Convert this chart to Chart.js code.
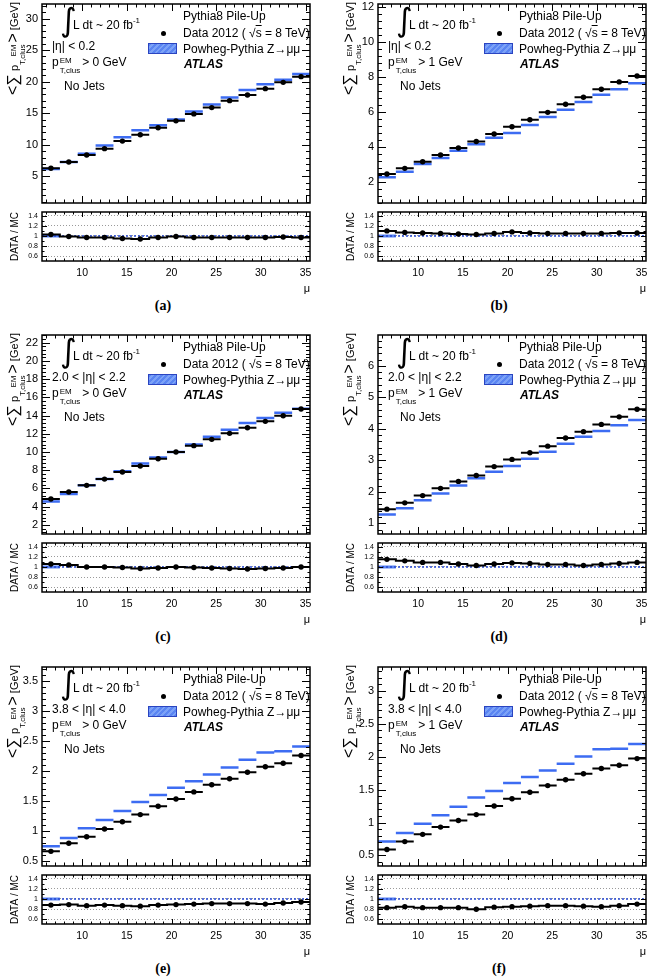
<!DOCTYPE html>
<html>
<head>
<meta charset="utf-8">
<script src="https://cdn.jsdelivr.net/npm/chart.js@4.4.1/dist/chart.umd.min.js"></script>
<style>
body { margin: 0; background: #fff; }
#fig { position: relative; width: 650px; height: 979px; overflow: hidden; font-family: 'Liberation Sans', Arial, sans-serif; color: #000; }
#fig canvas { position: absolute; }
.t { position: absolute; white-space: nowrap; font-size: 12px; line-height: 14px; transform: translateY(-50%); }
.ss { display: inline-flex; flex-direction: column; font-size: 8px; line-height: 10px; vertical-align: 3px; margin-left: 1px; margin-right: 2px; }
.int { font-family: 'DejaVu Sans', sans-serif; font-size: 32px; line-height: 32px; }
.sup { font-size: 8px; vertical-align: 6px; }
.atlas { font-weight: bold; font-style: italic; }
.dot { position: absolute; width: 5px; height: 5px; border-radius: 50%; background: #000; }
.mcbox { position: absolute; box-sizing: border-box; border: 1px solid #2a44c0;
  background: repeating-linear-gradient(135deg, #5a85f2 0 2px, #7ca2f7 2px 4px); }
.ytitle { position: absolute; width: 130px; height: 20px; line-height: 20px; text-align: right; white-space: nowrap;
  font-size: 11px; transform: rotate(-90deg); }
.ytitle .big { font-size: 16px; }
.ytitle .ss { line-height: 9px; vertical-align: 2px; margin-left: 0; }
.letter { position: absolute; width: 60px; text-align: center; font-family: 'Liberation Serif', serif; font-weight: bold; font-size: 14px; transform: translate(-50%, -50%); }
</style>
</head>
<body>
<div id="fig"></div>
<script>
// mu bins
const muEdges = [5.5, 7.5, 9.5, 11.5, 13.5, 15.5, 17.5, 19.5, 21.5, 23.5, 25.5, 27.5, 29.5, 31.5, 33.5, 35.5];
const muCenters = [6.5, 8.5, 10.5, 12.5, 14.5, 16.5, 18.5, 20.5, 22.5, 24.5, 26.5, 28.5, 30.5, 32.5, 34.5];
const muTicks = [10, 15, 20, 25, 30, 35];

// (a) |eta| < 0.2, pT > 0
const dataA = [6.3, 7.3, 8.4, 9.4, 10.6, 11.6, 12.7, 13.8, 14.9, 15.9, 17.0, 17.9, 18.9, 19.9, 20.8];
const mcA = [6.2, 7.3, 8.6, 9.9, 11.2, 12.3, 13.1, 14.0, 15.3, 16.4, 17.5, 18.7, 19.6, 20.3, 21.2];
const ratioA = [1.03, 0.99, 0.97, 0.97, 0.95, 0.94, 0.97, 0.99, 0.97, 0.97, 0.97, 0.97, 0.97, 0.98, 0.97];
// (b) |eta| < 0.2, pT > 1
const dataB = [2.44, 2.76, 3.14, 3.52, 3.92, 4.29, 4.72, 5.14, 5.54, 5.96, 6.42, 6.82, 7.28, 7.70, 8.04];
const mcB = [2.25, 2.57, 3.01, 3.35, 3.77, 4.13, 4.51, 4.78, 5.24, 5.70, 6.11, 6.55, 6.97, 7.28, 7.62];
const ratioB = [1.10, 1.07, 1.06, 1.05, 1.04, 1.03, 1.05, 1.08, 1.06, 1.05, 1.05, 1.05, 1.05, 1.06, 1.06];
// (c) 2.0 < |eta| < 2.2, pT > 0
const dataC = [4.84, 5.61, 6.34, 7.03, 7.80, 8.46, 9.27, 10.0, 10.7, 11.39, 12.05, 12.67, 13.37, 13.99, 14.72];
const mcC = [4.58, 5.39, 6.34, 7.03, 7.88, 8.75, 9.41, 10.0, 10.84, 11.68, 12.45, 13.18, 13.73, 14.32, 14.76];
const ratioC = [1.06, 1.04, 1.00, 1.00, 0.99, 0.97, 0.98, 1.00, 0.99, 0.98, 0.97, 0.96, 0.97, 0.98, 1.00];
// (d) 2.0 < |eta| < 2.2, pT > 1
const dataD = [1.45, 1.65, 1.88, 2.11, 2.33, 2.52, 2.80, 3.03, 3.24, 3.45, 3.71, 3.91, 4.14, 4.38, 4.62];
const mcD = [1.28, 1.48, 1.73, 1.95, 2.20, 2.43, 2.64, 2.82, 3.05, 3.27, 3.53, 3.75, 3.93, 4.11, 4.28];
const ratioD = [1.15, 1.12, 1.09, 1.09, 1.06, 1.03, 1.06, 1.08, 1.07, 1.05, 1.05, 1.03, 1.05, 1.07, 1.09];
// (e) 3.8 < |eta| < 4.0, pT > 0
const dataE = [0.655, 0.79, 0.90, 1.03, 1.15, 1.27, 1.41, 1.53, 1.65, 1.77, 1.87, 1.98, 2.07, 2.13, 2.26];
const mcE = [0.74, 0.88, 1.04, 1.18, 1.33, 1.48, 1.60, 1.72, 1.83, 1.94, 2.06, 2.19, 2.31, 2.33, 2.41];
const ratioE = [0.88, 0.89, 0.87, 0.88, 0.87, 0.86, 0.88, 0.89, 0.90, 0.91, 0.91, 0.91, 0.90, 0.92, 0.94];
// (f) 3.8 < |eta| < 4.0, pT > 1
const dataF = [0.59, 0.71, 0.82, 0.93, 1.03, 1.12, 1.25, 1.36, 1.46, 1.56, 1.65, 1.74, 1.82, 1.87, 1.97];
const mcF = [0.71, 0.84, 0.98, 1.11, 1.24, 1.38, 1.48, 1.60, 1.69, 1.79, 1.89, 2.00, 2.11, 2.12, 2.19];
const ratioF = [0.83, 0.85, 0.83, 0.83, 0.83, 0.80, 0.84, 0.85, 0.86, 0.87, 0.87, 0.86, 0.85, 0.87, 0.90];

const mcRatio = 1;
const panelLetters = ['(a)', '(b)', '(c)', '(d)', '(e)', '(f)'];
const etaLabels = ['|η| < 0.2', '|η| < 0.2', '2.0 < |η| < 2.2', '2.0 < |η| < 2.2', '3.8 < |η| < 4.0', '3.8 < |η| < 4.0'];
const ptCuts = ['0', '1', '0', '1', '0', '1'];

const yMin = [0.8, 0.78, 1.0, 0.66, 0.41, 0.34];
const yMax = [32.3, 12.15, 22.85, 6.98, 3.74, 3.36];
const yTicks = [
  [5, 10, 15, 20, 25, 30],
  [2, 4, 6, 8, 10, 12],
  [2, 4, 6, 8, 10, 12, 14, 16, 18, 20, 22],
  [1, 2, 3, 4, 5, 6],
  [0.5, 1, 1.5, 2, 2.5, 3, 3.5],
  [0.5, 1, 1.5, 2, 2.5, 3]
];
const yMinorStep = [1, 0.4, 0.4, 0.2, 0.1, 0.1];
const ratioTicks = [0.6, 0.8, 1, 1.2, 1.4];
const ratioMin = 0.51, ratioMax = 1.47;

const dataSeries = [dataA, dataB, dataC, dataD, dataE, dataF];
const mcSeries = [mcA, mcB, mcC, mcD, mcE, mcF];
const ratioSeries = [ratioA, ratioB, ratioC, ratioD, ratioE, ratioF];

Chart.defaults.font.family = "'Liberation Sans', Arial, sans-serif";
Chart.defaults.color = '#000';

const fig = document.getElementById('fig');
const colLeft = [0, 336];
const rowTop = [0, 331, 663];

// ROOT-like frame with ticks pointing inwards
const inwardTicks = {
  id: 'inwardTicks',
  afterDraw(chart, args, o) {
    const { ctx, chartArea: a } = chart;
    const x = chart.scales.x, y = chart.scales.y;
    const isMajor = (s, v) => s.ticks.some(t => Math.abs(t.value - v) < 1e-6);
    ctx.save();
    ctx.strokeStyle = '#000';
    ctx.lineWidth = 1;
    ctx.beginPath();
    for (let i = Math.ceil(x.min / o.xStep - 1e-6); i * o.xStep <= x.max + 1e-9; i++) {
      const v = +(i * o.xStep).toFixed(6);
      const p = Math.round(x.getPixelForValue(v)) + 0.5;
      const len = isMajor(x, v) ? o.xLen : o.xLen / 2;
      ctx.moveTo(p, a.bottom); ctx.lineTo(p, a.bottom - len);
      ctx.moveTo(p, a.top); ctx.lineTo(p, a.top + len);
    }
    for (let i = Math.ceil(y.min / o.yStep - 1e-6); i * o.yStep <= y.max + 1e-9; i++) {
      const v = +(i * o.yStep).toFixed(6);
      const p = Math.round(y.getPixelForValue(v)) + 0.5;
      const len = isMajor(y, v) ? o.yLen : o.yLen / 2;
      ctx.moveTo(a.left, p); ctx.lineTo(a.left + len, p);
      ctx.moveTo(a.right, p); ctx.lineTo(a.right - len, p);
    }
    ctx.stroke();
    ctx.lineWidth = 1.5;
    ctx.strokeRect(a.left, a.top, a.right - a.left, a.bottom - a.top);
    ctx.restore();
  }
};

function segments(vals) {
  const pts = [];
  vals.forEach((v, i) => {
    pts.push({ x: muEdges[i], y: v }, { x: muEdges[i + 1], y: v }, { x: muEdges[i + 1], y: null });
  });
  return pts;
}

function steps(vals) {
  const pts = [];
  vals.forEach((v, i) => {
    pts.push({ x: muEdges[i], y: v }, { x: muEdges[i + 1], y: v });
  });
  return pts;
}

function points(vals) {
  return vals.map((v, i) => ({ x: muCenters[i], y: v }));
}

function makeCanvas(left, top, w, h) {
  const c = document.createElement('canvas');
  c.width = w; c.height = h;
  c.style.left = left + 'px'; c.style.top = top + 'px';
  c.style.width = w + 'px'; c.style.height = h + 'px';
  fig.appendChild(c);
  return c;
}

function addText(html, left, top, cls) {
  const d = document.createElement('div');
  d.className = 't' + (cls ? ' ' + cls : '');
  d.innerHTML = html;
  d.style.left = left + 'px';
  d.style.top = top + 'px';
  fig.appendChild(d);
  return d;
}

const pTclus = 'p<span class="ss"><span>EM</span><span>T,clus</span></span>';

function drawPanel(i) {
  const c = i % 2, r = Math.floor(i / 2);
  const L = colLeft[c], T = rowTop[r];

  // main plot
  new Chart(makeCanvas(L, T, 314, 207), {
    type: 'line',
    data: {
      datasets: [
        { data: points(dataSeries[i]), showLine: false, pointRadius: 2.7, pointBorderWidth: 0,
          pointBackgroundColor: '#000', order: 0 },
        { data: segments(dataSeries[i]), borderColor: '#000', borderWidth: 2, pointRadius: 0, order: 1 },
        { data: segments(mcSeries[i]), borderColor: '#3d6cf2', borderWidth: 2.5, pointRadius: 0, order: 2 }
      ]
    },
    options: {
      responsive: false, animation: false, events: [],
      layout: { padding: { top: 4, right: 2, left: 0, bottom: 0 } },
      plugins: { legend: { display: false }, tooltip: { enabled: false },
        inwardTicks: { xStep: 1, xLen: 7, yStep: yMinorStep[i], yLen: 8 } },
      scales: {
        x: { type: 'linear', min: muEdges[0], max: muEdges[muEdges.length - 1],
          grid: { display: false, drawTicks: false }, border: { display: false },
          ticks: { display: false },
          afterBuildTicks: s => { s.ticks = muTicks.map(v => ({ value: v })); },
          afterFit: s => { s.height = 4; s.paddingLeft = 0; s.paddingRight = 0; } },
        y: { min: yMin[i], max: yMax[i],
          grid: { display: false, drawTicks: false }, border: { display: false },
          ticks: { font: { size: 11 }, padding: 4, callback: v => String(v) },
          afterBuildTicks: s => { s.ticks = yTicks[i].map(v => ({ value: v })); },
          afterFit: s => { s.width = 42; s.paddingTop = 0; s.paddingBottom = 0; } }
      }
    },
    plugins: [inwardTicks]
  });

  // ratio plot
  new Chart(makeCanvas(L, T + 208, 314, 88), {
    type: 'line',
    data: {
      datasets: [
        { data: points(ratioSeries[i]), showLine: false, pointRadius: 2.7, pointBorderWidth: 0,
          pointBackgroundColor: '#000', order: 0 },
        { data: steps(ratioSeries[i]), borderColor: '#000', borderWidth: 2, pointRadius: 0, order: 1 },
        { data: [{ x: muEdges[0], y: mcRatio }, { x: muEdges[muEdges.length - 1], y: mcRatio }],
          borderColor: '#2547d0', borderWidth: 1.5, borderDash: [2, 2], pointRadius: 0, order: 2 },
        { data: [{ x: muEdges[0], y: mcRatio }, { x: muEdges[1], y: mcRatio }],
          borderColor: '#5a85f2', borderWidth: 3, pointRadius: 0, order: 3 }
      ]
    },
    options: {
      responsive: false, animation: false, events: [],
      layout: { padding: { top: 4, right: 2, left: 0, bottom: 0 } },
      plugins: { legend: { display: false }, tooltip: { enabled: false },
        inwardTicks: { xStep: 1, xLen: 5, yStep: 0.1, yLen: 5 } },
      scales: {
        x: { type: 'linear', min: muEdges[0], max: muEdges[muEdges.length - 1],
          grid: { display: false, drawTicks: false }, border: { display: false },
          ticks: { font: { size: 10.5 }, padding: 6, maxRotation: 0, callback: v => String(v) },
          title: { display: true, text: 'μ', align: 'end', font: { size: 11 }, padding: { top: 2, bottom: 0 } },
          afterBuildTicks: s => { s.ticks = muTicks.map(v => ({ value: v })); },
          afterFit: s => { s.height = 35; s.paddingLeft = 0; s.paddingRight = 0; } },
        y: { min: ratioMin, max: ratioMax,
          grid: { color: '#9a9a9a', lineWidth: 1, drawTicks: false },
          border: { display: false, dash: [1, 2] },
          ticks: { font: { size: 7 }, padding: 4, callback: v => String(v) },
          title: { display: true, text: 'DATA / MC', font: { size: 10 }, padding: { top: 9, bottom: 0 } },
          afterBuildTicks: s => { s.ticks = ratioTicks.map(v => ({ value: v })); },
          afterFit: s => { s.width = 42; s.paddingTop = 0; s.paddingBottom = 0; } }
      }
    },
    plugins: [inwardTicks]
  });

  // y-axis title of the main plot
  const yt = document.createElement('div');
  yt.className = 'ytitle';
  yt.innerHTML = '<span class="big">&lt;</span><span class="big">∑</span> ' + pTclus + '<span class="big">&gt;</span> [GeV]';
  yt.style.left = (L + 13 - 65) + 'px';
  yt.style.top = (T + 2 + 65 - 10) + 'px';
  fig.appendChild(yt);

  // annotations and legend, relative to plot corner
  const px = L + 42, py = T + 4;
  addText('<span class="int">∫</span>', px + 18, py + 16);
  addText('L dt ~ 20 fb<span class="sup">-1</span>', px + 31, py + 19);
  addText(etaLabels[i], px + 10, py + 42);
  addText(pTclus + '&gt; ' + ptCuts[i] + ' GeV', px + 10, py + 61);
  addText('No Jets', px + 22, py + 82);

  addText('Pythia8 Pile-Up', px + 141, py + 12);
  const dot = document.createElement('div');
  dot.className = 'dot';
  dot.style.left = (px + 119) + 'px';
  dot.style.top = (py + 27) + 'px';
  fig.appendChild(dot);
  addText('Data 2012 ( √<span style="text-decoration:overline">s</span> = 8 TeV)', px + 141, py + 29);
  const box = document.createElement('div');
  box.className = 'mcbox';
  box.style.left = (px + 106) + 'px';
  box.style.top = (py + 39) + 'px';
  box.style.width = '29px';
  box.style.height = '11px';
  fig.appendChild(box);
  addText('Powheg-Pythia Z→μμ', px + 141, py + 45);
  addText('ATLAS', px + 142, py + 60, 'atlas');

  const lt = document.createElement('div');
  lt.className = 'letter';
  lt.textContent = panelLetters[i];
  lt.style.left = (L + 163) + 'px';
  lt.style.top = (T + 306) + 'px';
  fig.appendChild(lt);
}

for (let i = 0; i < 6; i++) drawPanel(i);
</script>
</body>
</html>
